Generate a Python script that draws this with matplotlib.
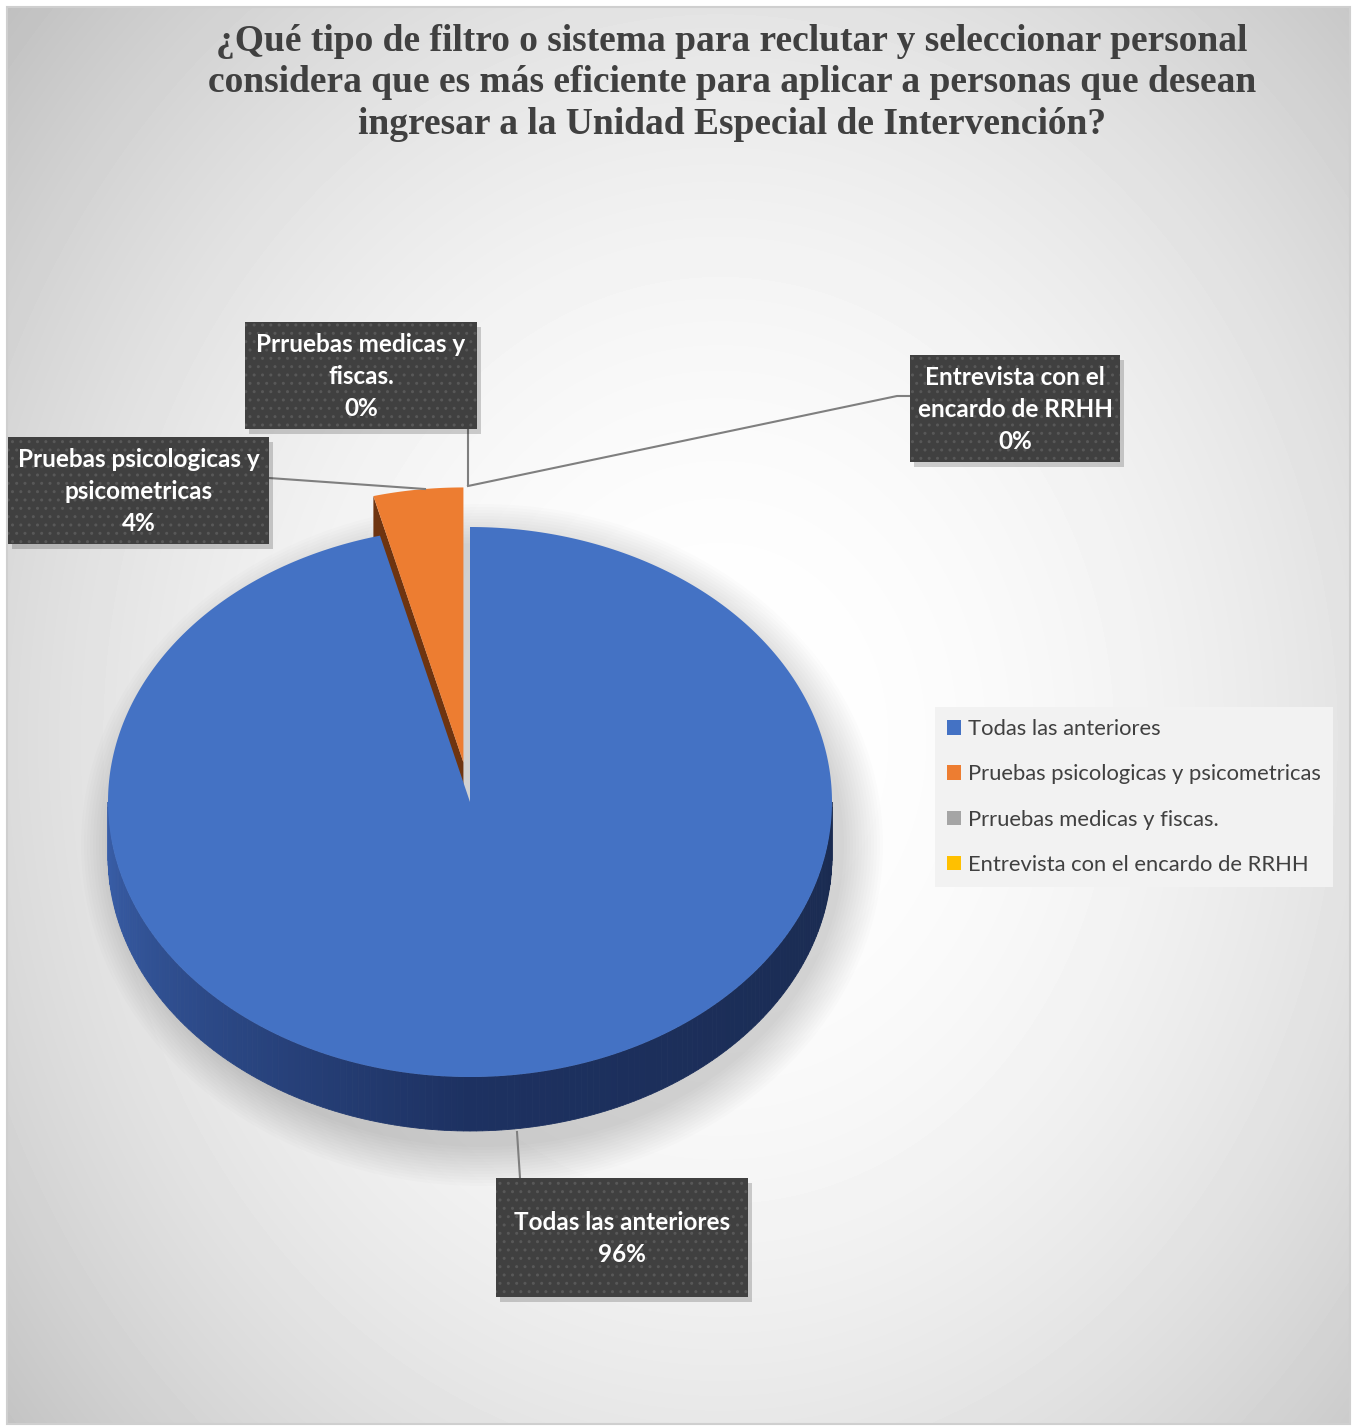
import numpy as np
import matplotlib.pyplot as plt
from matplotlib.patches import Polygon, Rectangle, Patch, Ellipse
from matplotlib.colors import to_rgb

#%% Datos

categorias = ['Todas las anteriores', 'Pruebas psicologicas y psicometricas',
              'Prruebas medicas y fiscas.', 'Entrevista con el encardo de RRHH']
porcentajes = [96, 4, 0, 0]
colores = ['#4472c4', '#ed7d31', '#a5a5a5', '#ffc000']
etiquetas = ['Todas las anteriores', 'Pruebas psicologicas y\npsicometricas',
             'Prruebas medicas y\nfiscas.', 'Entrevista con el\nencardo de RRHH']

titulo = ('¿Qué tipo de filtro o sistema para reclutar y seleccionar personal\n'
          'considera que es más eficiente para aplicar a personas que desean\n'
          'ingresar a la Unidad Especial de Intervención?')

#%% Figura en coordenadas de pixeles

W, H = 1355, 1426
fig = plt.figure(figsize=(W / 100, H / 100), dpi=100, facecolor='white')
ax = fig.add_axes([0, 0, 1, 1])
ax.set_xlim(0, W)
ax.set_ylim(H, 0)
ax.axis('off')

# fondo con degradado radial
x0, x1, y0, y1 = 7, 1350, 7, 1424
yy, xx = np.mgrid[y0:y1, x0:x1]
d2 = ((xx - 720) / 850) ** 2 + ((yy - 740) / 1000) ** 2
g = np.clip(1 - 0.2 * d2, 0, 1)
ax.imshow(g, cmap='gray', vmin=0, vmax=1, extent=(x0, x1, y1, y0), zorder=0, aspect='auto')
ax.add_patch(Rectangle((x0, y0), x1 - x0, y1 - y0, fill=False, ec='#cfcfcf', lw=1.5, zorder=1))

#%% Pastel 3D

cx, cy, rx, ry, prof = 470, 802, 362, 275, 54
frac = np.array(porcentajes) / sum(porcentajes)
bordes = 90 - 360 * np.concatenate([[0], np.cumsum(frac)])

def punto(t, dx=0, dy=0, z=0):
    t = np.radians(t)
    return np.column_stack([cx + dx + rx * np.cos(t), cy + dy - ry * np.sin(t) + z])

# sombra suave
for k in range(14):
    ax.add_patch(Ellipse((cx + 12, cy + prof / 2 + 16), 2 * rx + 6 * k, 2 * ry + prof + 6 * k,
                         color='black', alpha=0.013, lw=0, zorder=2))

# porcion naranja separada
t_a, t_b = bordes[1], bordes[2]
t_m = np.radians((t_a + t_b) / 2)
e = 0.145
dx, dy = rx * e * np.cos(t_m), -ry * e * np.sin(t_m)
ext = punto(np.array([t_a]), dx, dy)[0]
centro = np.array([cx + dx, cy + dy])
cara = np.array([ext, centro, centro + [0, prof], ext + [0, prof]])
ax.add_patch(Polygon(cara, fc='#6e3410', ec='none', zorder=3))
arco = punto(np.linspace(t_a, t_b, 30), dx, dy)
ax.add_patch(Polygon(np.vstack([centro, arco]), fc=colores[1], ec='none', zorder=4))

# lateral de la porcion azul
c_izq, c_fondo, c_der = np.array(to_rgb('#3a60ab')), np.array(to_rgb('#1d3161')), np.array(to_rgb('#1a2b50'))
ts = np.linspace(-180, 0, 181)
for a, b in zip(ts[:-1], ts[1:]):
    arr = punto(np.array([a, b]))
    quad = np.vstack([arr, arr[::-1] + [0, prof]])
    m = (a + b) / 2
    if m < -90:
        f = (m + 180) / 90
        c = c_izq * (1 - f) + c_fondo * f
    else:
        f = (m + 90) / 90
        c = c_fondo * (1 - f) + c_der * f
    ax.add_patch(Polygon(quad, fc=c, ec=c, lw=0.6, zorder=5))

# cara superior azul
arco = punto(np.linspace(bordes[0], bordes[1], 400))
ax.add_patch(Polygon(np.vstack([[cx, cy], arco]), fc=colores[0], ec='none', zorder=6))

#%% Etiquetas de datos

cajas = [(496, 1178, 748, 1297), (8, 437, 269, 544), (245, 322, 477, 429), (910, 355, 1120, 462)]
lineas = [[(517, 1132), (520, 1178)],
          [(269, 478), (425, 489)],
          [(468, 429), (468, 485)],
          [(910, 396), (897, 396), (468, 486)]]

for ln in lineas:
    ln = np.array(ln)
    ax.plot(ln[:, 0], ln[:, 1], color='#7f7f7f', lw=1.5, zorder=7)

for (bx0, by0, bx1, by1), txt, p in zip(cajas, etiquetas, porcentajes):
    ax.add_patch(Rectangle((bx0 + 4, by0 + 5), bx1 - bx0, by1 - by0, fc='#000000', alpha=0.18, lw=0, zorder=8))
    ax.add_patch(Rectangle((bx0, by0), bx1 - bx0, by1 - by0, fc='#404040', ec='none', zorder=9))
    ax.add_patch(Rectangle((bx0, by0), bx1 - bx0, by1 - by0, fc='none', ec='#585858', lw=0,
                           hatch='..', zorder=10))
    ax.text((bx0 + bx1) / 2, (by0 + by1) / 2 + 1, f'{txt}\n{p}%', ha='center', va='center',
            color='white', fontsize=17.5, family='Lato', weight='bold', linespacing=1.47, zorder=11)

#%% Titulo y leyenda

ax.text(732, 83, titulo, ha='center', va='center', fontsize=27, family='Liberation Serif',
        weight='bold', color='#404040', linespacing=1.25, zorder=11)

handles = [Patch(fc=c, ec='none') for c in colores]
leg = ax.legend(handles, categorias, loc='upper left', bbox_to_anchor=(935, 707),
                bbox_transform=ax.transData, frameon=True, facecolor='#f2f2f2', edgecolor='none',
                framealpha=1, fancybox=False, handlelength=0.65, handleheight=0.65, handletextpad=0.3,
                labelspacing=1.15, borderpad=0.55, borderaxespad=0, labelcolor='#404040',
                prop={'family': 'Lato', 'size': 15.8})

fig.savefig('out.png', dpi=100, facecolor='white')
